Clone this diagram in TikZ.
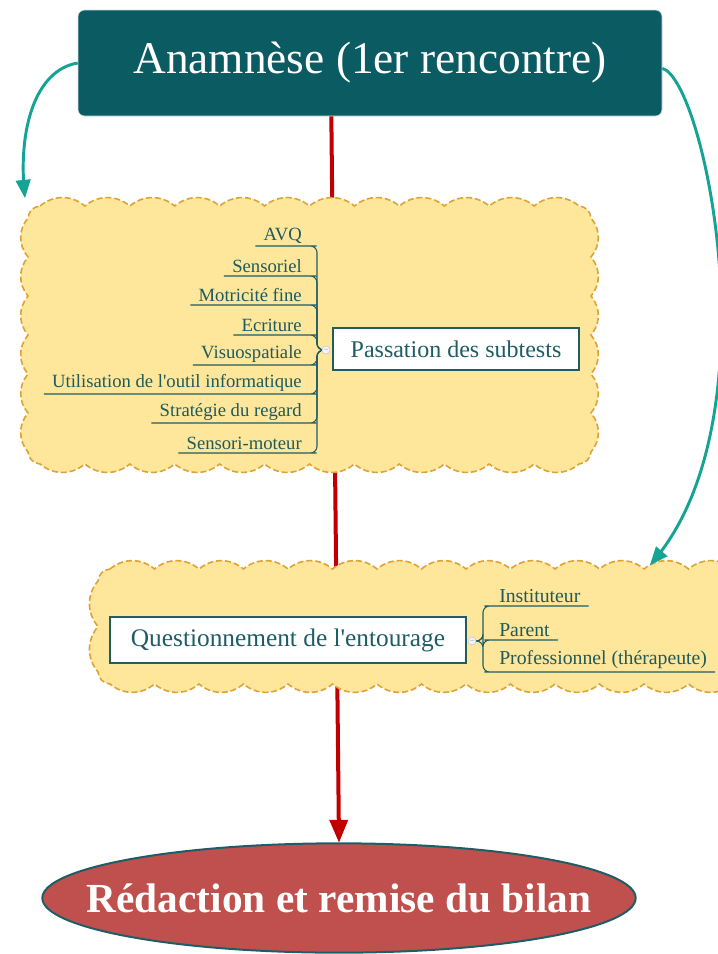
\documentclass[tikz,border=0pt]{standalone}
\usepackage{fontspec}
\setmainfont{Liberation Serif}
\usepackage{tikz}
\usetikzlibrary{arrows,shapes.geometric}
\definecolor{anabg}{HTML}{0B5B63}
\definecolor{leaftext}{HTML}{1F5A5C}
\definecolor{boxline}{HTML}{1E5D66}
\definecolor{cloudfill}{HTML}{FEE69B}
\definecolor{cloudline}{HTML}{DFA236}
\definecolor{linkred}{HTML}{C00000}
\definecolor{linkteal}{HTML}{14A394}
\definecolor{bilanbg}{HTML}{C0504D}

\begin{document}
\begin{tikzpicture}[x=0.75pt,y=-0.75pt]
\tikzstyle{leaf}=[text=leaftext,font=\fontsize{14}{16}\selectfont,inner xsep=6pt,inner ysep=2pt];
\tikzstyle{branch}=[draw=boxline,line width=0.8pt,rounded corners=5pt];
\tikzstyle{subbox}=[draw=boxline,line width=1.6pt,fill=white,text=boxline];
\tikzstyle{marker}=[circle,draw=gray!45,fill=blue!4,text=gray,inner sep=0pt,minimum size=6pt,
  font=\fontsize{6}{6}\selectfont];
\tikzstyle{cloud}=[draw=cloudline,fill=cloudfill,line width=1.2pt,dash pattern=on 4.5pt off 2.2pt];
\clip (0,0) rectangle (718,954);

\node [fill=anabg,draw=white!80!anabg,rounded corners=5pt,minimum width=438pt,minimum height=79.5pt,
  text=white,font=\fontsize{34}{38}\selectfont](ana) at (370,63) {Anamnèse (1er rencontre)};
\node [ellipse,fill=bilanbg,draw=boxline,line width=1.5pt,inner xsep=-32pt,minimum width=445pt,minimum height=82pt,
  text=white,font=\bfseries\fontsize{31}{34}\selectfont](bilan) at (339,898) {Rédaction et remise du bilan};
\draw [linkred,line width=3pt,-triangle 45] ([xshift=-29pt]ana.south) -- (bilan.north);

% the two clouds
\path [cloud] (40,206)
  \foreach \i in {1,...,12} {to[bend left=40] ++(44.92,0)}
  to[bend left=40] (591,218)
  \foreach \i in {1,...,6} {to[bend left=40] ++(0,39)}
  to[bend left=40] (579,464)
  \foreach \i in {1,...,12} {to[bend left=40] ++(-44.92,0)}
  to[bend left=40] (28,452)
  \foreach \i in {1,...,6} {to[bend left=40] ++(0,-39)}
  to[bend left=40] (40,206) -- cycle;
\path [cloud] (110,569)
  \foreach \i in {1,...,14} {to[bend left=40] ++(44.5,0)}
  to[bend left=40] (745,581)
  \foreach \i in {1,2} {to[bend left=40] ++(0,45.5)}
  to[bend left=40] (733,684)
  \foreach \i in {1,...,14} {to[bend left=40] ++(-44.5,0)}
  to[bend left=40] (98,672)
  \foreach \i in {1,2} {to[bend left=40] ++(0,-45.5)}
  to[bend left=40] (110,569) -- cycle;

% passation des subtests
\node [subbox,minimum width=185pt,minimum height=31.5pt,font=\fontsize{18}{20}\selectfont](pass) at (456,349) {Passation des subtests};
\node [leaf,anchor=south east](avq) at (310,246) {AVQ};
\node [leaf,anchor=south east](sens) at (310,276) {Sensoriel};
\node [leaf,anchor=south east](motr) at (310,305) {Motricité fine};
\node [leaf,anchor=south east](ecri) at (310,335) {Ecriture};
\node [leaf,anchor=south east](visu) at (310,365) {Visuospatiale};
\node [leaf,anchor=south east](util) at (310,394) {Utilisation de l\textquotesingle outil informatique};
\node [leaf,anchor=south east](strat) at (310,423) {Stratégie du regard};
\node [leaf,anchor=south east](senso) at (310,453) {Sensori-moteur};
\coordinate (mk1pos) at (326,350);
\foreach \l in {avq,sens,motr,ecri,visu,util,strat,senso}
  \draw [branch] ([xshift=-3pt]mk1pos) -- ++(-5,0) |- (\l.south east) -- (\l.south west);
\node [marker](mk1) at (mk1pos) {--};

% questionnement de l'entourage
\node [subbox,minimum width=267pt,minimum height=34pt,font=\fontsize{19}{21}\selectfont](quest) at (288,640) {Questionnement de l\textquotesingle entourage};
\node [leaf,anchor=south west,font=\fontsize{14.8}{16}\selectfont](inst) at (491,606) {Instituteur};
\node [leaf,anchor=south west,font=\fontsize{14.8}{16}\selectfont](par) at (491,640) {Parent};
\node [leaf,anchor=south west,font=\fontsize{14.8}{16}\selectfont](prof) at (491,672) {Professionnel (thérapeute)};
\coordinate (mk2pos) at (472,641);
\foreach \l in {inst,par,prof}
  \draw [branch] ([xshift=3pt]mk2pos) -- ++(7,0) |- (\l.south west) -- (\l.south east);
\node [marker](mk2) at (mk2pos) {--};

% teal links
\coordinate (tip1) at (25,198);
\coordinate (tip2) at (650,565);
\draw [linkteal,line width=2.2pt,-triangle 45] (ana.west) .. controls (35,70) and (18,130) .. (tip1);
\draw [linkteal,line width=2.2pt,-triangle 45] ([yshift=-4pt]ana.east) .. controls (705,80) and (775,420) .. (tip2);
\end{tikzpicture}
\end{document}
